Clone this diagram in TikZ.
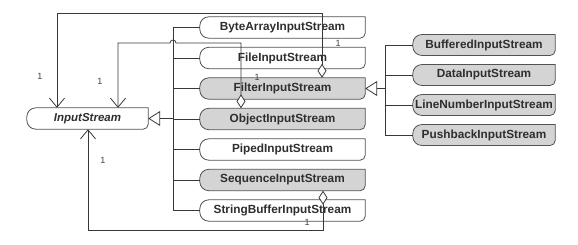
\documentclass[tikz,border=0pt]{standalone}
\usepackage{fontspec}
\setmainfont{Liberation Sans}
\usetikzlibrary{arrows.meta,backgrounds}
\tikzset{
  cls/.style={font=\bfseries\fontsize{11.8}{13}\selectfont, text=black!82, minimum width=165pt, minimum height=21pt, inner sep=0pt},
  subcls/.style={cls, minimum width=142pt, minimum height=20.5pt},
  abscls/.style={cls, font=\bfseries\itshape\fontsize{11.5}{13}\selectfont, minimum width=121pt},
  ln/.style={draw=black!78, line width=0.8pt},
  gen/.style={ln, -{Triangle[length=12pt, width=15pt, fill=white]}},
  agg/.style={ln, {Diamond[length=14pt, width=9pt, fill=white]}-{Straight Barb[length=9pt, width=15pt]}},
  mult/.style={font=\fontsize{9}{10}\selectfont, text=black!75, inner sep=0pt},
  boxline/.style={draw=black!68, line width=0.8pt},
}
\newcommand\clsshape[2]{%
  \draw[boxline, fill=#2] (#1.north east) -- ([xshift=9pt]#1.north west)
    arc[start angle=90, end angle=180, radius=9pt] -- ([yshift=9pt]#1.south west)
    arc[start angle=180, end angle=270, radius=9pt] -- ([xshift=-5pt]#1.south east)
    arc[start angle=270, end angle=360, radius=5pt] -- cycle;}
\begin{document}
\begin{tikzpicture}[x=1pt,y=1pt]
\useasboundingbox (0,0) rectangle (578,-244);
% classes
\node[abscls] (is) at (87.5,-118.5) {InputStream};
\node[cls] (ba)  at (282.5,-27.5) {ByteArrayInputStream};
\node[cls] (fis) at (282.5,-58) {FileInputStream};
\node[cls] (flt) at (282.5,-88.5) {FilterInputStream};
\node[cls] (obj) at (282.5,-119) {ObjectInputStream};
\node[cls] (pip) at (282.5,-149.5) {PipedInputStream};
\node[cls] (seq) at (282.5,-180) {SequenceInputStream};
\node[cls] (sb)  at (282.5,-210.5) {StringBufferInputStream};
\node[subcls] (bu) at (484,-45) {BufferedInputStream};
\node[subcls] (da) at (484,-75) {DataInputStream};
\node[subcls] (lno) at (484,-105) {LineNumberInputStream};
\node[subcls] (pb) at (484,-135) {PushbackInputStream};
\begin{pgfonlayer}{background}
  \clsshape{is}{white}
  \clsshape{ba}{white}
  \clsshape{fis}{white}
  \clsshape{flt}{black!17}
  \clsshape{obj}{black!17}
  \clsshape{pip}{white}
  \clsshape{seq}{black!17}
  \clsshape{sb}{white}
  \clsshape{bu}{black!17}
  \clsshape{da}{black!17}
  \clsshape{lno}{black!17}
  \clsshape{pb}{black!17}
\end{pgfonlayer}
% bus coordinates
\coordinate (bus) at (173,0);
\coordinate (rbus) at (385,0);
% inheritance into InputStream
\draw[ln] (ba.west) -- (ba.west -| bus) -- (sb.west -| bus) -- (sb.west);
\foreach \n in {fis,flt,obj,pip,seq} \draw[ln] (\n.west -| bus) -- (\n.west);
\draw[gen] (is.east -| bus) -- (is.east);
% inheritance into FilterInputStream
\draw[ln] (bu.west) -- (bu.west -| rbus) -- (pb.west -| rbus) -- (pb.west);
\foreach \n in {da,lno} \draw[ln] (\n.west -| rbus) -- (\n.west);
\draw[gen] (flt.east -| rbus) -- (flt.east);
% aggregations
\coordinate (a1) at (322,-13);
\coordinate (a1b) at (57,-13);
\draw[agg] (flt.north -| a1) -- (a1) -- (a1b) -- (is.north -| a1b);
\coordinate (a2) at (241,-43);
\coordinate (a2b) at (118,-43);
\draw[agg] (obj.north -| a2) -- (a2) -- ([xshift=3pt]a2 -| bus)
  arc[start angle=0, end angle=180, radius=3pt] -- (a2b) -- (is.north -| a2b);
\coordinate (a3) at (323,-230);
\coordinate (a3b) at (88,-230);
\draw[agg] (seq.south -| a3) -- (a3) -- (a3b) -- (is.south -| a3b);
% multiplicities
\node[mult] (m1) at (40,-76) {1};
\node[mult] (m2) at (100,-81) {1};
\node[mult] (m3) at (103,-160) {1};
\node[mult] (m4) at (338,-43) {1};
\node[mult] (m5) at (257,-77) {1};
\node[mult] (m6) at (307,-222) {1};
\end{tikzpicture}
\end{document}
